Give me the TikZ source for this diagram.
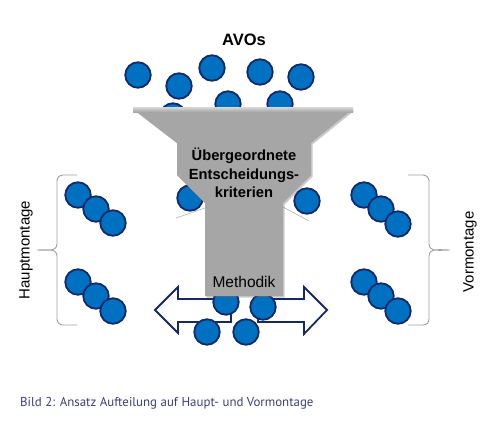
\documentclass[tikz,border=0pt]{standalone}
\usepackage{fontspec}
\setmainfont{Liberation Sans}
\newfontfamily\capfont{PT Sans}
\usetikzlibrary{shadows}
\definecolor{ballfill}{HTML}{0070C0}
\definecolor{ballline}{HTML}{14286B}
\definecolor{funnelgray}{HTML}{A6A6A6}
\definecolor{bracegray}{HTML}{A0A0A0}
\definecolor{capcolor}{HTML}{3C3F78}
\tikzset{
  ball/.style={circle, fill=ballfill, draw=ballline, line width=1.8pt, minimum size=25.5pt, inner sep=0pt},
  hollowarrow/.style={fill=white, draw=ballline, line width=1.8pt, line join=miter},
  funnelshape/.style={fill=funnelgray, draw=none, drop shadow={shadow xshift=1.5pt, shadow yshift=-1.5pt, opacity=0.35, fill=black!60}},
  bracestyle/.style={draw=bracegray, line width=0.9pt},
  sidelabel/.style={font=\fontsize{15}{18}\selectfont, rotate=90},
  boldlabel/.style={font=\bfseries\fontsize{14.7}{18.5}\selectfont},
}
\begin{document}
\begin{tikzpicture}[x=1pt,y=-1pt]
\useasboundingbox (0,0) rectangle (500,442);
% arrows
\draw[hollowarrow] (231,299) -- (178,299) -- (178,287) -- (155,310) -- (178,333) -- (178,322) -- (231,322) -- cycle;
\draw[hollowarrow] (258,299) -- (304,299) -- (304,287) -- (327,310) -- (304,334) -- (304,322) -- (258,322) -- cycle;
% bottom balls
\node[ball] (b1) at (226,302) {};
\node[ball] (b2) at (263,307) {};
\node[ball] (b3) at (207,332) {};
\node[ball] (b4) at (246,332) {};
% top balls
\node[ball] (t1) at (138,75) {};
\node[ball] (t2) at (179,86) {};
\node[ball] (t3) at (212,68) {};
\node[ball] (t4) at (260,72) {};
\node[ball] (t5) at (301,77) {};
\node[ball] (t6) at (173,116) {};
\node[ball] (t7) at (228,104) {};
\node[ball] (t8) at (280,104) {};
% balls behind funnel
\node[ball] (m1) at (190,198) {};
\node[ball] (m2) at (307,201) {};
% reflection lines
\draw[gray!60, line width=0.6pt] (205,208) -- (176,218);
\draw[gray!60, line width=0.6pt] (283,207) -- (309,221);
% funnel
\path[funnelshape] (133,109) -- (353,109) -- (311,143) -- (311,175) -- (283,203) -- (283,296) -- (205,296) -- (205,203) -- (177,175) -- (177,143) -- cycle;
\shade[top color=gray!30, bottom color=funnelgray] (133,107) rectangle (353,112);
\node[boldlabel, align=center] (crit) at (244,173) {Übergeordnete\\Entscheidungs-\\kriterien};
\node[font=\fontsize{15.5}{17}\selectfont] (meth) at (244,282) {Methodik};
\node[font=\bfseries\fontsize{16.5}{19}\selectfont] (avos) at (244,40) {AVOs};
% left groups
\node[ball] (l1) at (78,195) {};
\node[ball] (l2) at (96,209) {};
\node[ball] (l3) at (113,223) {};
\node[ball] (l4) at (78,282) {};
\node[ball] (l5) at (96,296) {};
\node[ball] (l6) at (113,311) {};
% right groups
\node[ball] (r1) at (364,195) {};
\node[ball] (r2) at (381,209) {};
\node[ball] (r3) at (398,224) {};
\node[ball] (r4) at (364,282) {};
\node[ball] (r5) at (381,296) {};
\node[ball] (r6) at (398,311) {};
% braces
\draw[bracestyle] (77,175) -- (63,175) to[out=180,in=90] (57,181) -- (57,244) to[out=-90,in=0] (37,250) to[out=0,in=90] (57,256) -- (57,319) to[out=-90,in=180] (63,325) -- (77,325);
\draw[bracestyle] (408,175) -- (423,175) to[out=0,in=90] (429,181) -- (429,244) to[out=-90,in=180] (450,250) to[out=180,in=90] (429,256) -- (429,319) to[out=-90,in=0] (423,325) -- (408,325);
\node[sidelabel] (haupt) at (26,250) {Hauptmontage};
\node[sidelabel] (vor) at (470,252) {Vormontage};
% caption
\node[anchor=base west, inner sep=0pt, text=capcolor, font=\capfont\fontsize{12.9}{15}\selectfont] (cap) at (20,406) {Bild 2: Ansatz Aufteilung auf Haupt- und Vormontage};
\end{tikzpicture}
\end{document}
